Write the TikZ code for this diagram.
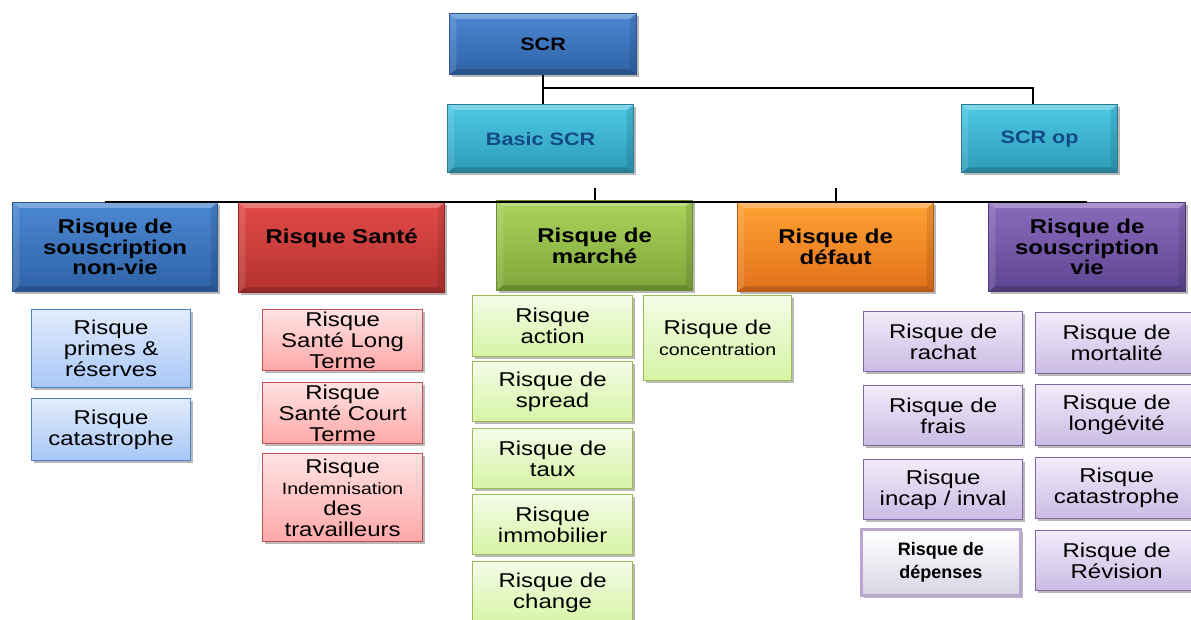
\documentclass[tikz,border=0pt]{standalone}
\usepackage{fontspec}
\setmainfont{Liberation Sans}
\newfontfamily\wf[FakeStretch=1.2]{Liberation Sans}
\usetikzlibrary{shadows,calc}
\definecolor{scrT}{HTML}{4B88D2}\definecolor{scrB}{HTML}{2E62A6}\definecolor{scrD}{HTML}{2A5792}
\definecolor{cyT}{HTML}{4CC8E4}\definecolor{cyB}{HTML}{2D9BB8}\definecolor{cyD}{HTML}{2B7A90}\definecolor{cyTx}{HTML}{124A86}
\definecolor{rdT}{HTML}{E24A48}\definecolor{rdB}{HTML}{B23230}\definecolor{rdD}{HTML}{902624}
\definecolor{gnT}{HTML}{AAD35A}\definecolor{gnB}{HTML}{7EA63A}\definecolor{gnD}{HTML}{6A8E30}
\definecolor{orT}{HTML}{FFA233}\definecolor{orB}{HTML}{E2701A}\definecolor{orD}{HTML}{B85A14}
\definecolor{vlT}{HTML}{8A6BBC}\definecolor{vlB}{HTML}{5E4592}\definecolor{vlD}{HTML}{4C3878}
\definecolor{lbT}{HTML}{E2ECFC}\definecolor{lbB}{HTML}{A8C7F8}\definecolor{lbD}{HTML}{4C80C8}
\definecolor{lrT}{HTML}{FFE2E2}\definecolor{lrB}{HTML}{FFA8A8}\definecolor{lrD}{HTML}{C25252}
\definecolor{lgT}{HTML}{F4FCE8}\definecolor{lgB}{HTML}{D6F4A4}\definecolor{lgD}{HTML}{9CBC5C}
\definecolor{lvT}{HTML}{F1ECF9}\definecolor{lvB}{HTML}{CABBE4}\definecolor{lvD}{HTML}{8266A4}
\definecolor{dpD}{HTML}{B8A8D0}\definecolor{dpB}{HTML}{DAD4E4}
\newcommand\bx[7]{\node[#2, minimum width={(#5-#3)*0.75pt}, minimum height={(#6-#4)*0.75pt}] (#1) at (#3,#4) {#7};}
\tikzset{
  x=0.75pt, y=-0.75pt,
  base/.style={draw, line width=0.9pt, align=center, inner sep=0pt, anchor=north west,
    drop shadow={shadow xshift=1.8pt, shadow yshift=-1.8pt, opacity=0.28, fill=black}},
  bevel/.style={path picture={
    \fill[white,opacity=0.28] (path picture bounding box.north west) -- (path picture bounding box.north east)
      -- ([xshift=-5pt,yshift=-4pt]path picture bounding box.north east) -- ([xshift=5pt,yshift=-4pt]path picture bounding box.north west) -- cycle;
    \fill[black,opacity=0.18] (path picture bounding box.south west) -- (path picture bounding box.south east)
      -- ([xshift=-5pt,yshift=4pt]path picture bounding box.south east) -- ([xshift=5pt,yshift=4pt]path picture bounding box.south west) -- cycle;
    \fill[white,opacity=0.12] (path picture bounding box.north west) -- (path picture bounding box.south west)
      -- ([xshift=5pt,yshift=4pt]path picture bounding box.south west) -- ([xshift=5pt,yshift=-4pt]path picture bounding box.north west) -- cycle;
    \fill[black,opacity=0.1] (path picture bounding box.north east) -- (path picture bounding box.south east)
      -- ([xshift=-5pt,yshift=4pt]path picture bounding box.south east) -- ([xshift=-5pt,yshift=-4pt]path picture bounding box.north east) -- cycle;
  }},
  top/.style={base, bevel, font=\wf\bfseries\fontsize{13.5}{15}\selectfont},
  hd/.style={base, bevel, font=\wf\bfseries\fontsize{15}{15.4}\selectfont},
  ch/.style={base, font=\wf\fontsize{15}{15.75}\selectfont},
  scrbox/.style={top, top color=scrT, bottom color=scrB, draw=scrD},
  cybox/.style={top, top color=cyT, bottom color=cyB, draw=cyD, text=cyTx},
  hdnv/.style={hd, top color=scrT, bottom color=scrB, draw=scrD},
  hdrd/.style={hd, top color=rdT, bottom color=rdB, draw=rdD},
  hdgn/.style={hd, top color=gnT, bottom color=gnB, draw=gnD},
  hdor/.style={hd, top color=orT, bottom color=orB, draw=orD},
  hdvl/.style={hd, top color=vlT, bottom color=vlB, draw=vlD},
  chb/.style={ch, top color=lbT, bottom color=lbB, draw=lbD},
  chr/.style={ch, top color=lrT, bottom color=lrB, draw=lrD},
  chg/.style={ch, top color=lgT, bottom color=lgB, draw=lgD},
  chv/.style={ch, top color=lvT, bottom color=lvB, draw=lvD},
  dep/.style={base, line width=2.2pt, top color=white, bottom color=dpB, draw=dpD,
    font=\bfseries\fontsize{13.5}{17}\selectfont},
  conn/.style={line width=1.6pt, black},
  thin/.style={line width=1.1pt, black},
}
\begin{document}
\begin{tikzpicture}
\useasboundingbox (0,0) rectangle (1191,619);
% level 0 and 1
\bx{scr}{scrbox}{449}{13}{636}{74}{SCR}
\bx{basic}{cybox}{447}{104}{633}{172}{Basic SCR}
\bx{op}{cybox}{961}{104}{1117}{172}{SCR op}
% level 2
\bx{nv}{hdnv}{12}{202}{217}{291}{Risque de\\souscription\\non-vie}
\bx{sante}{hdrd}{238}{202}{444}{292}{Risque Santé\\[2pt]\mbox{}}
\bx{marche}{hdgn}{496}{200}{692}{290}{Risque de\\march\'e}
\bx{defaut}{hdor}{737}{202}{933}{291}{Risque de\\d\'efaut}
\bx{vie}{hdvl}{988}{202}{1185}{291}{Risque de\\souscription\\vie}
% non-vie children
\bx{nv1}{chb}{31}{309}{190}{387}{Risque\\primes \&\\r\'eserves}
\bx{nv2}{chb}{31}{398}{190}{460}{Risque\\catastrophe}
% sante children
\bx{s1}{chr}{262}{309}{422}{370}{Risque\\Sant\'e Long\\Terme}
\bx{s2}{chr}{262}{382}{422}{443}{Risque\\Sant\'e Court\\Terme}
\bx{s3}{chr}{262}{453}{422}{541}{Risque\\{\wf\fontsize{12.2}{16}\selectfont Indemnisation}\\des\\travailleurs}
% marche children
\bx{m1}{chg}{472}{295}{632}{356}{Risque\\action}
\bx{m2}{chg}{472}{361}{632}{421}{Risque de\\spread}
\bx{m3}{chg}{472}{428}{632}{488}{Risque de\\taux}
\bx{m4}{chg}{472}{494}{632}{554}{Risque\\immobilier}
\bx{m5}{chg}{472}{561}{632}{624}{Risque de\\change}
\bx{m6}{chg}{643}{295}{791}{380}{Risque de\\{\wf\fontsize{12.2}{12.5}\selectfont concentration}}
% vie children
\bx{v1}{chv}{863}{311}{1022}{371}{Risque de\\rachat}
\bx{v2}{chv}{863}{385}{1022}{445}{Risque de\\frais}
\bx{v3}{chv}{863}{459}{1022}{519}{Risque\\incap / inval}
\bx{v4}{dep}{860}{528}{1019}{594}{Risque de\\d\'epenses}
\bx{v5}{chv}{1035}{312}{1197}{373}{Risque de\\mortalit\'e}
\bx{v6}{chv}{1035}{384}{1197}{445}{Risque de\\long\'evit\'e}
\bx{v7}{chv}{1035}{457}{1197}{518}{Risque\\catastrophe}
\bx{v8}{chv}{1035}{530}{1197}{590}{Risque de\\R\'evision}
% connectors
\coordinate (upbus) at (0,88);
\coordinate (bus) at (0,188);
\draw[thin] (scr.south) -- (scr.south |- basic.north);
\draw[conn] (scr.south |- upbus) -| ($(op.north)+(-7,0)$);
\draw[thin] ($(basic.south)+(3,0)$) -- ($(basic.south)+(3,0)$ |- bus);
\draw[conn] ($(nv.north)+(-10.5,0)$) -- ($(nv.north)+(-10.5,0)$ |- bus) -| (vie.north);
\draw[conn] (marche.north) -- (marche.north |- bus);
\draw[conn] (defaut.north) -- (defaut.north |- bus);
\end{tikzpicture}
\end{document}
